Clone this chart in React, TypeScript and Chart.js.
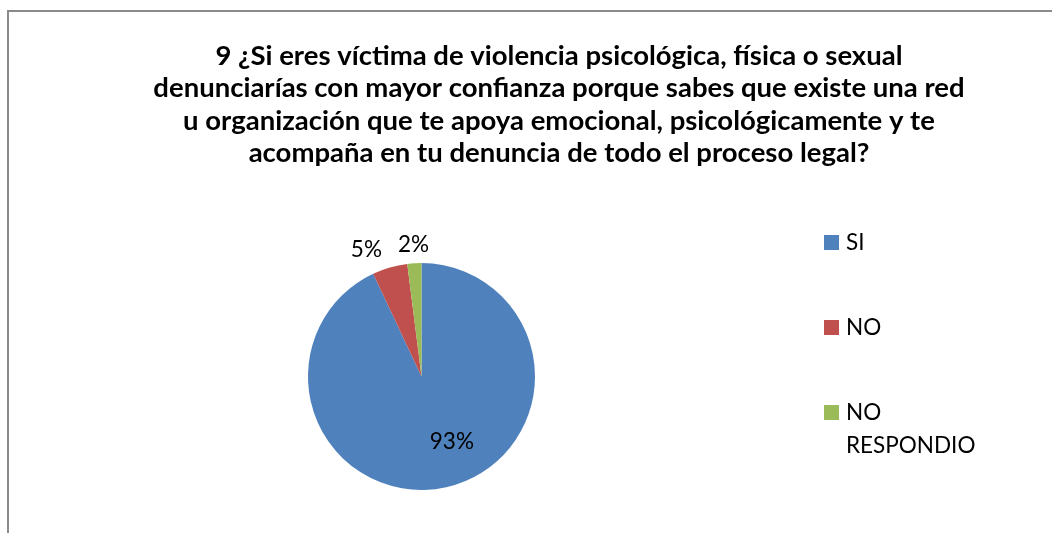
import React, { useEffect, useRef } from "react";
import { Chart, registerables } from "chart.js";

Chart.register(...registerables);

const categories = ["SI", "NO", "NO RESPONDIO"];
const legendLines = [["SI"], ["NO"], ["NO", "RESPONDIO"]];
const values = [93, 5, 2];
const percentLabels = ["93%", "5%", "2%"];
const colors = ["#4F81BD", "#C0504D", "#9BBB59"];
const titleLines = [
  "9 ¿Si eres víctima de violencia psicológica, física o sexual",
  "denunciarías con mayor confianza porque sabes que existe una red",
  "u organización que te apoya emocional, psicológicamente y te",
  "acompaña en tu denuncia de todo el proceso legal?",
];

const TITLE_FONT = "bold 27.5px Lato, 'Liberation Sans', sans-serif";
const TEXT_FONT = "22.5px Lato, 'Liberation Sans', sans-serif";

const decorPlugin = {
  id: "decor",
  beforeDraw(chart: any) {
    const ctx = chart.ctx;
    ctx.save();
    ctx.fillStyle = "#ffffff";
    ctx.fillRect(0, 0, chart.width, chart.height);
    ctx.fillStyle = "#8a8a8a";
    ctx.fillRect(7, 10, 2, chart.height - 10);
    ctx.fillRect(7, 10, chart.width - 7, 2);
    ctx.restore();
  },
  afterDraw(chart: any) {
    const ctx = chart.ctx;
    ctx.save();
    // Title
    ctx.fillStyle = "#000000";
    ctx.font = TITLE_FONT;
    ctx.textAlign = "center";
    ctx.textBaseline = "alphabetic";
    titleLines.forEach((t, i) => ctx.fillText(t, 559, 65 + i * 32.4));

    // Legend
    ctx.font = TEXT_FONT;
    ctx.textAlign = "left";
    legendLines.forEach((lines, i) => {
      const base = 250 + i * 85;
      ctx.fillStyle = colors[i];
      ctx.fillRect(824, base - 15, 15, 15);
      ctx.fillStyle = "#000000";
      lines.forEach((l, j) => ctx.fillText(l, 846, base + j * 33));
    });

    // Data labels
    const meta = chart.getDatasetMeta(0);
    const placed: any[] = [];
    ctx.font = TEXT_FONT;
    ctx.textAlign = "center";
    const total = values.reduce((a, b) => a + b, 0);
    meta.data.forEach((arc: any, i: number) => {
      const { x, y, startAngle, endAngle, outerRadius } = arc.getProps(
        ["x", "y", "startAngle", "endAngle", "outerRadius"],
        true
      );
      const mid = (startAngle + endAngle) / 2;
      const w = ctx.measureText(percentLabels[i]).width;
      const frac = values[i] / total;
      if (frac < 0.1) {
        const d = outerRadius + 14;
        placed.push({ i, cx: x + Math.cos(mid) * d, base: y + Math.sin(mid) * d + 3, w });
      } else {
        const d = outerRadius * 0.62;
        placed.push({ i, cx: x + Math.cos(mid) * d + 15, base: y + Math.sin(mid) * d + 4, w, inside: true });
      }
    });
    const outside = placed.filter((p) => !p.inside).sort((a, b) => b.cx - a.cx);
    for (let k = 1; k < outside.length; k++) {
      const prev = outside[k - 1];
      const cur = outside[k];
      const maxRight = prev.cx - prev.w / 2 - 16;
      if (cur.cx + cur.w / 2 > maxRight) cur.cx = maxRight - cur.w / 2;
    }
    ctx.fillStyle = "#000000";
    placed.forEach((p) => ctx.fillText(percentLabels[p.i], p.cx, p.base));
    ctx.restore();
  },
};

export default function App() {
  const ref = useRef<HTMLCanvasElement>(null);
  useEffect(() => {
    if (!ref.current) return;
    const chart = new Chart(ref.current, {
      type: "pie",
      data: {
        labels: categories,
        datasets: [
          {
            data: values,
            backgroundColor: colors,
            borderWidth: 0,
          },
        ],
      },
      options: {
        responsive: false,
        animation: false,
        layout: { padding: { left: 308, right: 517, top: 263, bottom: 43 } },
        plugins: {
          legend: { display: false },
          title: { display: false },
          tooltip: { enabled: false },
        },
      },
      plugins: [decorPlugin],
    });
    return () => chart.destroy();
  }, []);
  return (
    <div style={{ position: "absolute", left: 0, top: 0, width: 1052, height: 533 }}>
      <canvas ref={ref} width={1052} height={533} />
    </div>
  );
}
